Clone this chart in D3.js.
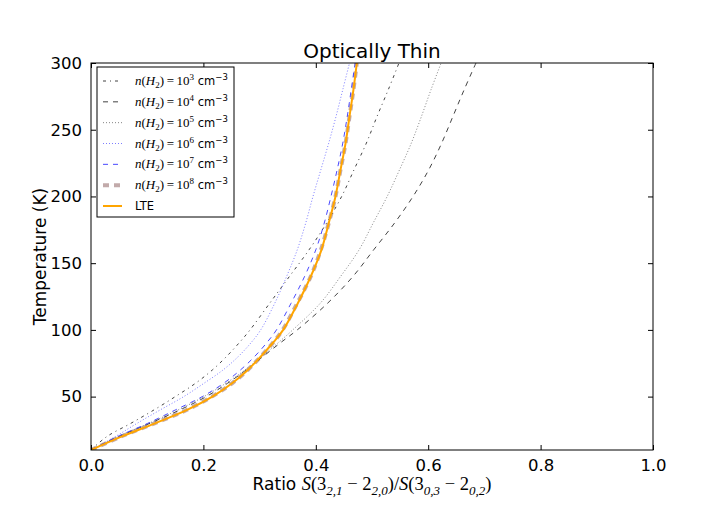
<!DOCTYPE html>
<html>
<head>
<meta charset="utf-8">
<script src="https://cdn.jsdelivr.net/npm/d3@7"></script>
<style>
  body { margin: 0; background: #fff; }
  text { font-family: "DejaVu Sans", sans-serif; }
  .math { font-family: "Liberation Serif", "DejaVu Serif", serif; font-style: italic; }
  .rm { font-family: "Liberation Serif", "DejaVu Serif", serif; }
</style>
</head>
<body>
<script>
// temperatures (K) at which the curves were read
const temps = [10, 20, 30, 40, 50, 60, 70, 80, 90, 100, 120, 140, 160, 180, 200, 220, 240, 260, 280, 300];

// ratio values for each density
const n3 = [0, 0.028, 0.071, 0.112, 0.150, 0.186, 0.216, 0.241, 0.263, 0.283, 0.318, 0.353, 0.388, 0.419, 0.446, 0.468, 0.490, 0.509, 0.529, 0.548];
const n4 = [0, 0.050, 0.105, 0.158, 0.205, 0.243, 0.276, 0.306, 0.336, 0.367, 0.421, 0.466, 0.503, 0.540, 0.573, 0.601, 0.624, 0.644, 0.664, 0.685];
const n5 = [0, 0.048, 0.103, 0.155, 0.201, 0.240, 0.274, 0.304, 0.332, 0.359, 0.408, 0.444, 0.477, 0.502, 0.527, 0.549, 0.570, 0.588, 0.605, 0.623];
const n6 = [0, 0.043, 0.082, 0.123, 0.165, 0.201, 0.235, 0.262, 0.284, 0.302, 0.327, 0.348, 0.367, 0.382, 0.395, 0.409, 0.423, 0.436, 0.448, 0.460];
const n7 = [0, 0.047, 0.101, 0.150, 0.198, 0.236, 0.266, 0.291, 0.312, 0.330, 0.356, 0.380, 0.400, 0.415, 0.427, 0.438, 0.448, 0.456, 0.463, 0.470];
const n8 = [0, 0.053, 0.113, 0.170, 0.215, 0.251, 0.279, 0.302, 0.323, 0.341, 0.367, 0.391, 0.409, 0.423, 0.435, 0.444, 0.453, 0.460, 0.467, 0.473];
const lte = [0, 0.054, 0.114, 0.171, 0.216, 0.251, 0.279, 0.302, 0.323, 0.342, 0.368, 0.391, 0.410, 0.423, 0.435, 0.444, 0.453, 0.460, 0.467, 0.473];

const xTicks = [0, 0.2, 0.4, 0.6, 0.8, 1.0];
const yTicks = [50, 100, 150, 200, 250, 300];
const exponents = ["3", "4", "5", "6", "7", "8"];

const width = 725;
const height = 513;
const mLeft = 91, mRight = 653, mTop = 63, mBottom = 450;

const svg = d3.select("body").append("svg")
  .attr("width", width)
  .attr("height", height);

const x = d3.scaleLinear().domain([0, 1]).range([mLeft, mRight]);
const y = d3.scaleLinear().domain([10, 300]).range([mBottom, mTop]);

svg.append("clipPath").attr("id", "plot")
  .append("rect")
  .attr("x", mLeft).attr("y", mTop)
  .attr("width", mRight - mLeft).attr("height", mBottom - mTop);

// series and how they are drawn
const series = [
  { vals: n3, color: "#222", width: 1, dash: "3,4,1,4", opacity: 0.85 },
  { vals: n4, color: "#222", width: 1, dash: "5,5", opacity: 0.85 },
  { vals: n5, color: "#777", width: 1, dash: "1,2", opacity: 0.9 },
  { vals: n6, color: "#6f6fff", width: 1, dash: "1,2", opacity: 0.9 },
  { vals: n7, color: "#2a2aff", width: 1, dash: "5,5", opacity: 0.85 },
  { vals: n8, color: "#b89c9c", width: 4, dash: "6,5", opacity: 0.85 },
  { vals: lte, color: "#ffa500", width: 2, dash: null, opacity: 1 }
];

const line = d3.line()
  .x((d) => x(d[0]))
  .y((d) => y(d[1]))
  .curve(d3.curveCatmullRom.alpha(0.5));

svg.append("g")
  .attr("clip-path", "url(#plot)")
  .selectAll("path")
  .data([5, 0, 1, 2, 3, 4, 6])
  .join("path")
  .attr("d", (i) => line(series[i].vals.map((v, k) => [v, temps[k]])))
  .attr("fill", "none")
  .attr("stroke", (i) => series[i].color)
  .attr("stroke-width", (i) => series[i].width)
  .attr("stroke-dasharray", (i) => series[i].dash)
  .attr("opacity", (i) => series[i].opacity);

// axes (ticks inward, all four sides)
const tk = 5;
svg.append("g")
  .attr("transform", `translate(0,${mBottom})`)
  .call(d3.axisBottom(x).tickValues(xTicks).tickSizeInner(-tk).tickSizeOuter(0).tickPadding(9).tickFormat(d3.format(".1f")))
  .call((g) => g.select(".domain").remove())
  .call((g) => g.selectAll("text").attr("font-size", 16.5).attr("font-family", "DejaVu Sans").attr("fill", "#000"));
svg.append("g")
  .attr("transform", `translate(0,${mTop})`)
  .call(d3.axisTop(x).tickValues(xTicks).tickSizeInner(-tk).tickSizeOuter(0).tickFormat(""))
  .call((g) => g.select(".domain").remove());
svg.append("g")
  .attr("transform", `translate(${mLeft},0)`)
  .call(d3.axisLeft(y).tickValues(yTicks).tickSizeInner(-tk).tickSizeOuter(0).tickPadding(9))
  .call((g) => g.select(".domain").remove())
  .call((g) => g.selectAll("text").attr("font-size", 16.5).attr("font-family", "DejaVu Sans").attr("fill", "#000"));
svg.append("g")
  .attr("transform", `translate(${mRight},0)`)
  .call(d3.axisRight(y).tickValues(yTicks).tickSizeInner(-tk).tickSizeOuter(0).tickFormat(""))
  .call((g) => g.select(".domain").remove());
svg.selectAll(".tick line").attr("stroke", "#000");

svg.append("rect")
  .attr("x", mLeft).attr("y", mTop)
  .attr("width", mRight - mLeft).attr("height", mBottom - mTop)
  .attr("fill", "none").attr("stroke", "#000").attr("stroke-width", 1);

// title and labels
svg.append("text")
  .attr("x", (mLeft + mRight) / 2).attr("y", 58)
  .attr("text-anchor", "middle").attr("font-size", 20)
  .text("Optically Thin");

svg.append("text")
  .attr("transform", `translate(46,${(mTop + mBottom) / 2}) rotate(-90)`)
  .attr("text-anchor", "middle").attr("font-size", 17)
  .text("Temperature (K)");

const xl = svg.append("text")
  .attr("x", (mLeft + mRight) / 2).attr("y", 490)
  .attr("text-anchor", "middle").attr("font-size", 17);
xl.append("tspan").text("Ratio ");
const xlParts = [
  ["math", "S", 0, 18.5], ["rm", "(3", 0, 18.5], ["math", "2,1", 5, 13], ["rm", " \u2212 2", -5, 18.5],
  ["math", "2,0", 5, 13], ["rm", ")/", -5, 18.5], ["math", "S", 0, 18.5], ["rm", "(3", 0, 18.5],
  ["math", "0,3", 5, 13], ["rm", " \u2212 2", -5, 18.5], ["math", "0,2", 5, 13], ["rm", ")", -5, 18.5]
];
xlParts.forEach((p) => {
  xl.append("tspan").attr("class", p[0]).attr("dy", p[2]).attr("font-size", p[3]).text(p[1]);
});

// legend
const lg = svg.append("g");
lg.append("rect")
  .attr("x", 97).attr("y", 67)
  .attr("width", 137).attr("height", 150)
  .attr("fill", "#fff").attr("stroke", "#000").attr("stroke-width", 1);

const rowY = d3.scaleLinear().domain([0, 6]).range([81, 206]);
const rows = lg.selectAll("g.row")
  .data(series)
  .join("g")
  .attr("class", "row")
  .attr("transform", (d, i) => `translate(0,${rowY(i)})`);

rows.append("line")
  .attr("x1", 103).attr("x2", 122)
  .attr("stroke", (d) => d.color)
  .attr("stroke-width", (d) => d.width)
  .attr("stroke-dasharray", (d) => d.dash)
  .attr("opacity", (d) => d.opacity);

rows.each(function (d, i) {
  const t = d3.select(this).append("text")
    .attr("x", 135).attr("y", 4).attr("font-size", 11.5);
  if (i === 6) {
    t.text("LTE");
    return;
  }
  t.append("tspan").attr("class", "math").attr("font-size", 13).text("n");
  t.append("tspan").attr("class", "rm").attr("font-size", 13).text("(");
  t.append("tspan").attr("class", "math").attr("font-size", 13).text("H");
  t.append("tspan").attr("class", "rm").attr("font-size", 9).attr("dy", 3).text("2");
  t.append("tspan").attr("class", "rm").attr("font-size", 13).attr("dy", -3).text(")\u2009=\u200910");
  t.append("tspan").attr("class", "rm").attr("font-size", 9).attr("dy", -5).text(exponents[i]);
  t.append("tspan").attr("dy", 5).text(" cm");
  t.append("tspan").attr("font-size", 8.5).attr("dy", -5).text("\u22123");
});
</script>
</body>
</html>
